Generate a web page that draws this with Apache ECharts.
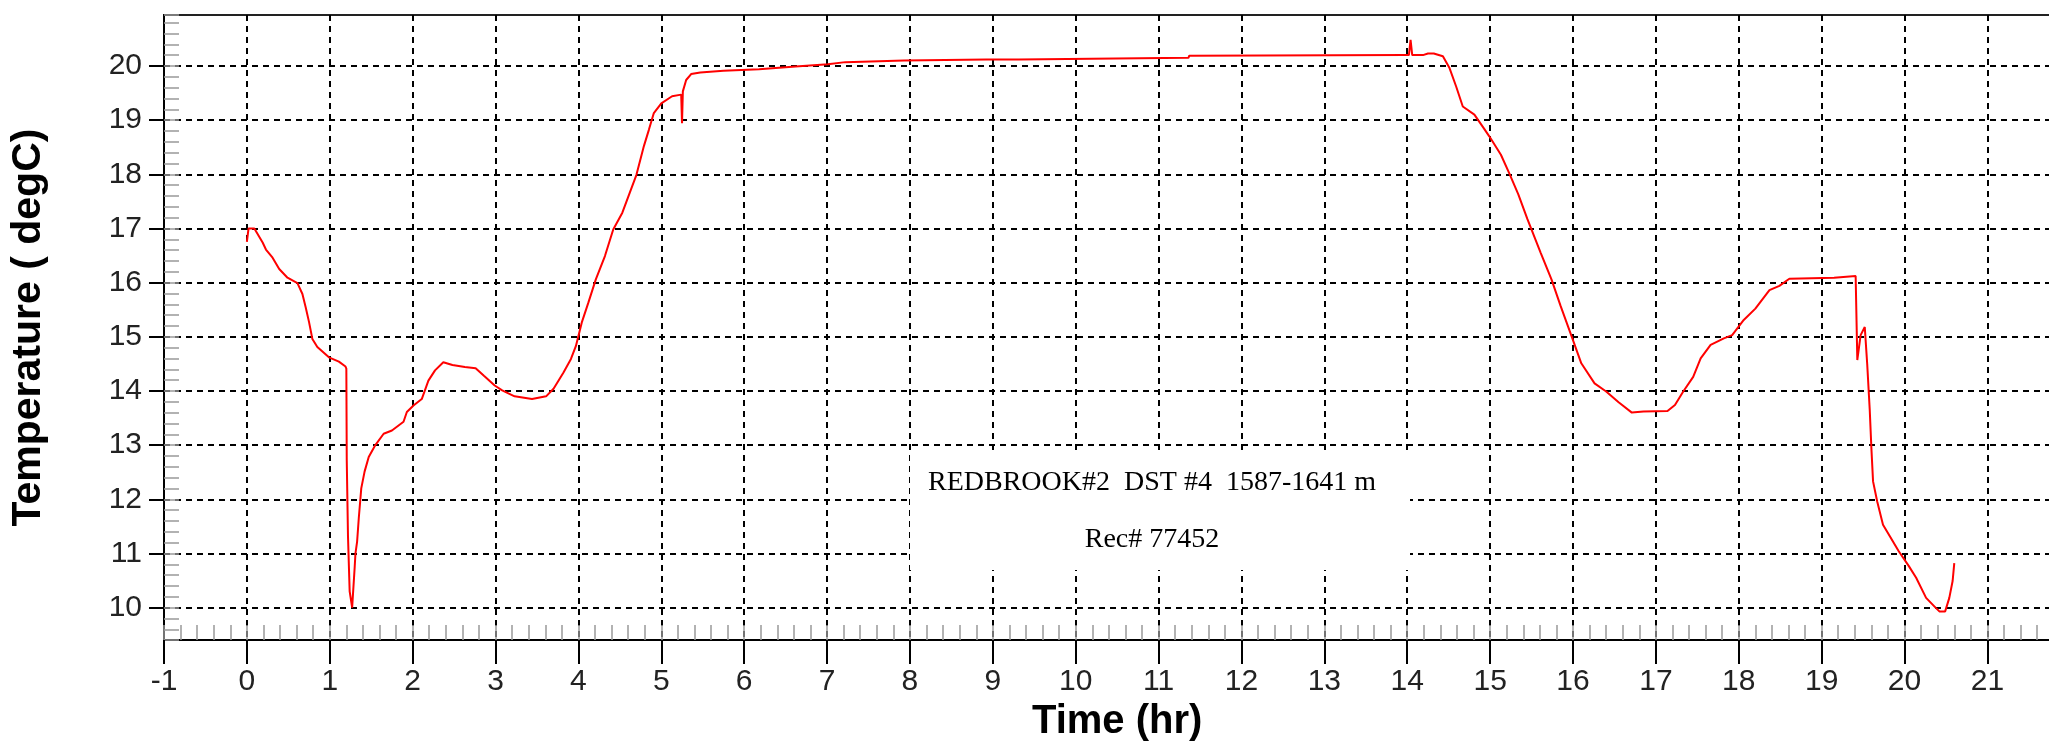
<!DOCTYPE html>
<html>
<head>
<meta charset="utf-8">
<script src="https://cdn.jsdelivr.net/npm/echarts@6/dist/echarts.min.js"></script>
<style>
  html, body { margin: 0; padding: 0; background: #fff; overflow: hidden; }
  #chart { width: 2090px; height: 747px; }
</style>
</head>
<body>
<div id="chart"></div>
<script>
// time (hr) and temperature (degC)
var timeHr = [
  0.00, 0.02, 0.09, 0.19, 0.23, 0.31, 0.39, 0.49, 0.61, 0.67, 0.71, 0.75, 0.79, 0.85, 0.99,
  1.11, 1.19, 1.20, 1.205, 1.22, 1.24, 1.27, 1.30, 1.31, 1.33, 1.35, 1.38, 1.42, 1.47, 1.55,
  1.65, 1.75, 1.89, 1.93, 2.01, 2.11, 2.19, 2.27, 2.37, 2.48, 2.63, 2.76, 2.86, 2.99, 3.08,
  3.23, 3.44, 3.61, 3.70, 3.82, 3.91, 3.97, 4.04, 4.12, 4.21, 4.32, 4.42, 4.53, 4.62, 4.70,
  4.79, 4.85, 4.91, 5.00, 5.13, 5.24, 5.25, 5.26, 5.30, 5.36, 5.47, 5.75, 6.18, 6.62, 7.01,
  7.22, 7.93, 8.92, 9.31, 9.32, 11.36, 11.37, 13.98, 14.02, 14.04, 14.06, 14.19, 14.25, 14.32,
  14.43, 14.51, 14.59, 14.67, 14.81, 14.91, 14.99, 15.13, 15.23, 15.34, 15.45, 15.61, 15.74,
  15.85, 15.98, 16.10, 16.26, 16.40, 16.55, 16.71, 16.85, 17.14, 17.23, 17.33, 17.45, 17.54,
  17.66, 17.82, 17.92, 18.06, 18.20, 18.37, 18.49, 18.61, 19.15, 19.17, 19.41, 19.43, 19.47,
  19.52, 19.55, 19.58, 19.60, 19.62, 19.67, 19.74, 19.81, 19.93, 20.05, 20.14, 20.26, 20.38,
  20.42, 20.49, 20.54, 20.58, 20.60
];
var tempC = [
  16.75, 17.00, 17.00, 16.74, 16.61, 16.46, 16.25, 16.09, 15.99, 15.79, 15.54, 15.27, 14.96, 14.81, 14.62,
  14.54, 14.45, 14.41, 12.72, 11.31, 10.30, 10.00, 10.73, 11.00, 11.22, 11.65, 12.20, 12.51, 12.78, 13.00,
  13.21, 13.27, 13.43, 13.61, 13.73, 13.85, 14.19, 14.38, 14.53, 14.48, 14.44, 14.42, 14.28, 14.10, 14.01,
  13.90, 13.85, 13.90, 14.04, 14.34, 14.59, 14.83, 15.26, 15.63, 16.06, 16.49, 16.98, 17.29, 17.66, 17.99,
  18.52, 18.82, 19.13, 19.31, 19.44, 19.47, 18.94, 19.53, 19.74, 19.85, 19.88, 19.91, 19.94, 19.99, 20.03,
  20.07, 20.10, 20.12, 20.12, 20.15, 20.15, 20.19, 20.20, 20.20, 20.48, 20.20, 20.20, 20.23, 20.23,
  20.18, 19.96, 19.62, 19.25, 19.10, 18.88, 18.70, 18.36, 18.02, 17.63, 17.17, 16.55, 16.06,
  15.57, 15.02, 14.51, 14.14, 13.99, 13.79, 13.60, 13.62, 13.63, 13.74, 13.99, 14.26, 14.60,
  14.85, 14.97, 15.03, 15.31, 15.52, 15.86, 15.94, 16.07, 16.09, 16.12, 16.12, 14.57, 15.03,
  15.18, 14.48, 13.65, 12.94, 12.33, 11.96, 11.53, 11.35, 11.04, 10.77, 10.55, 10.18, 9.99,
  9.93, 9.93, 10.18, 10.49, 10.82
];
var yTicks = [10, 11, 12, 13, 14, 15, 16, 17, 18, 19, 20];
var noteLines = ['REDBROOK#2  DST #4  1587-1641 m', 'Rec# 77452'];

var points = timeHr.map(function (t, i) { return [t, tempC[i]]; });

var chart = echarts.init(document.getElementById('chart'));
var sans = '"Liberation Sans", Arial, sans-serif';
var serif = '28px "Liberation Serif", "Times New Roman", serif';
var grid = { color: '#000', width: 2, type: [6, 5] };

chart.setOption({
  animation: false,
  backgroundColor: '#fff',
  grid: {
    left: 159, right: 9, top: 15, bottom: 105,
    show: true, borderColor: '#222', borderWidth: 2
  },
  xAxis: [
    {
      type: 'value', min: -1, max: 22, interval: 1, position: 'bottom',
      axisLine: { onZero: false, lineStyle: { color: '#000', width: 2 } },
      axisTick: { length: 24, lineStyle: { color: '#000', width: 2 } },
      axisLabel: { fontSize: 30, color: '#222', margin: 27, fontFamily: sans },
      splitLine: { show: true, lineStyle: grid },
      name: 'Time (hr)', nameLocation: 'middle', nameGap: 58,
      nameTextStyle: { fontSize: 40, fontWeight: 'bold', color: '#000', fontFamily: sans }
    },
    { // minor ticks
      type: 'value', min: -1, max: 22, interval: 0.2, position: 'bottom',
      axisLine: { show: false, onZero: false },
      axisTick: { inside: true, length: 15, lineStyle: { color: '#999', width: 1.5 } },
      axisLabel: { show: false },
      splitLine: { show: false }
    }
  ],
  yAxis: [
    {
      type: 'value', min: 9.4, max: 20.94, position: 'left',
      axisLine: { show: true, onZero: false, lineStyle: { color: '#000', width: 2 } },
      axisTick: { show: true, length: 15, customValues: yTicks, lineStyle: { color: '#000', width: 2 } },
      axisLabel: { customValues: yTicks, fontSize: 30, color: '#222', margin: 22, fontFamily: sans },
      splitLine: { show: true, lineStyle: grid },
      name: 'Temperature ( degC)', nameLocation: 'middle', nameGap: 115,
      nameTextStyle: { fontSize: 41, fontWeight: 'bold', color: '#000', fontFamily: sans }
    },
    { // minor ticks
      type: 'value', min: 9.4, max: 20.94, interval: 0.2, position: 'left',
      axisLine: { show: false, onZero: false },
      axisTick: { show: true, inside: true, length: 15, lineStyle: { color: '#999', width: 1.5 } },
      axisLabel: { show: false },
      splitLine: { show: false }
    }
  ],
  graphic: [
    { type: 'rect', z: 100, shape: { x: 910, y: 451, width: 500, height: 119 }, style: { fill: '#fff' } },
    { type: 'text', z: 101, x: 1152, y: 483, style: { text: noteLines[0], fill: '#000', font: serif, align: 'center', verticalAlign: 'middle' } },
    { type: 'text', z: 101, x: 1152, y: 540, style: { text: noteLines[1], fill: '#000', font: serif, align: 'center', verticalAlign: 'middle' } }
  ],
  series: [
    {
      type: 'line',
      xAxisIndex: 0, yAxisIndex: 0,
      data: points,
      showSymbol: false,
      lineStyle: { color: '#ff0000', width: 2 },
      z: 5
    }
  ]
});
</script>
</body>
</html>
